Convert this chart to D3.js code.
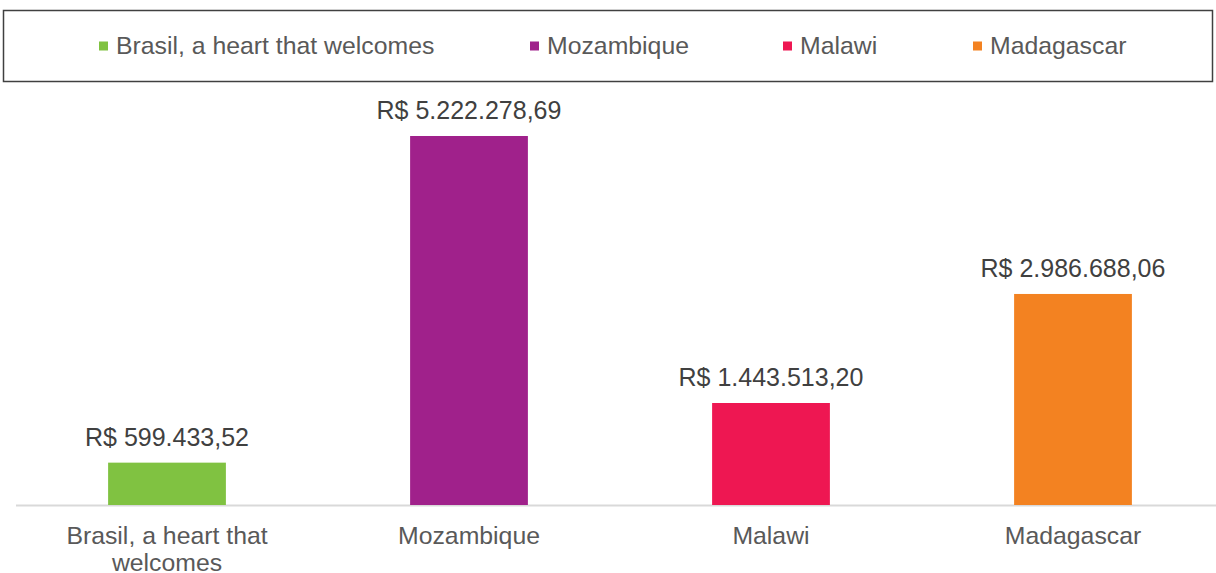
<!DOCTYPE html>
<html>
<head>
<meta charset="utf-8">
<script src="https://cdn.jsdelivr.net/npm/d3@7"></script>
<style>
  html, body { margin: 0; padding: 0; background: #ffffff; }
  svg { display: block; font-family: "Liberation Sans", Arial, sans-serif; }
</style>
</head>
<body>
<svg id="chart" width="1216" height="573"></svg>
<script>
const categories = ["Brasil, a heart that welcomes", "Mozambique", "Malawi", "Madagascar"];
const categoryLines = [["Brasil, a heart that", "welcomes"], ["Mozambique"], ["Malawi"], ["Madagascar"]];
const values = [599433.52, 5222278.69, 1443513.20, 2986688.06];
const valueLabels = ["R$ 599.433,52", "R$ 5.222.278,69", "R$ 1.443.513,20", "R$ 2.986.688,06"];
const colors = ["#80c241", "#a0218b", "#ee1752", "#f38221"];

const svg = d3.select("#chart");

const x = d3.scaleBand()
  .domain(categories)
  .range([16, 1224])
  .paddingInner(0.61)
  .paddingOuter(0.305);

const y0 = 505, yTopMax = 136;
const y = d3.scaleLinear()
  .domain([0, 5222278.69])
  .range([y0, yTopMax]);

// Legend box
svg.append("rect")
  .attr("x", 3.5).attr("y", 10.5)
  .attr("width", 1209).attr("height", 71)
  .attr("fill", "none")
  .attr("stroke", "#404040")
  .attr("stroke-width", 1.5);

const legendX = [99, 530, 783, 973];
const legend = svg.append("g").selectAll("g")
  .data(categories)
  .join("g")
  .attr("transform", (d, i) => `translate(${legendX[i]},0)`);
legend.append("rect")
  .attr("x", 0).attr("y", 41.5)
  .attr("width", 9).attr("height", 9)
  .attr("fill", (d, i) => colors[i]);
legend.append("text")
  .attr("x", 17).attr("y", 53.5)
  .attr("font-size", 24.8)
  .attr("fill", "#595959")
  .text(d => d);

// Axis baseline
svg.append("line")
  .attr("x1", 16).attr("x2", 1216)
  .attr("y1", y(0) + 0.5).attr("y2", y(0) + 0.5)
  .attr("stroke", "#d9d9d9")
  .attr("stroke-width", 2);

// Bars
svg.append("g").selectAll("rect")
  .data(values)
  .join("rect")
  .attr("x", (d, i) => x(categories[i]))
  .attr("width", x.bandwidth())
  .attr("y", d => y(d))
  .attr("height", d => y(0) - y(d))
  .attr("fill", (d, i) => colors[i]);

// Data labels
svg.append("g").selectAll("text")
  .data(values)
  .join("text")
  .attr("x", (d, i) => x(categories[i]) + x.bandwidth() / 2)
  .attr("y", d => y(d) - 17)
  .attr("text-anchor", "middle")
  .attr("font-size", 25)
  .attr("fill", "#404040")
  .text((d, i) => valueLabels[i]);

// Category labels
const cat = svg.append("g").selectAll("text")
  .data(categories)
  .join("text")
  .attr("x", d => x(d) + x.bandwidth() / 2)
  .attr("y", 544)
  .attr("text-anchor", "middle")
  .attr("font-size", 24.8)
  .attr("fill", "#595959");
cat.each(function(d, i) {
  const t = d3.select(this);
  categoryLines[i].forEach((line, j) => {
    t.append("tspan")
      .attr("x", x(d) + x.bandwidth() / 2)
      .attr("dy", j === 0 ? 0 : 27)
      .text(line);
  });
});
</script>
</body>
</html>
